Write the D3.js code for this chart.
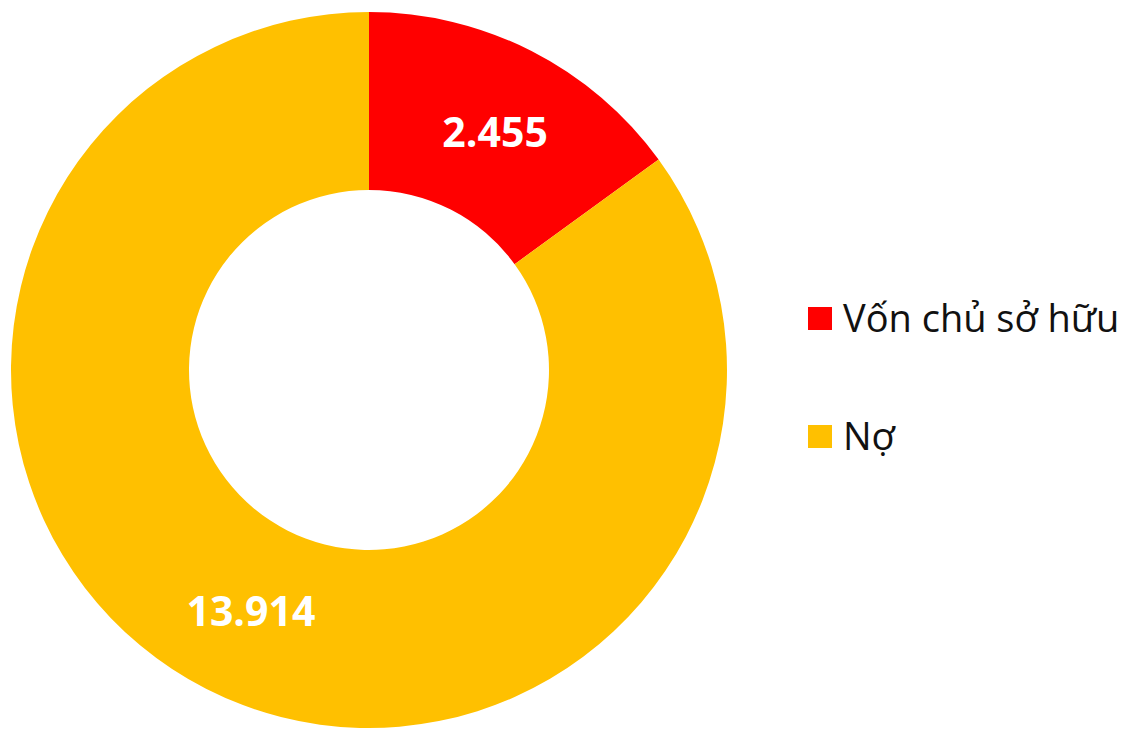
<!DOCTYPE html>
<meta charset="utf-8">
<script src="https://d3js.org/d3.v7.min.js"></script>
<style>
  body { margin: 0; background: #fff; }
  text { font-family: "Open Sans", "Noto Sans", sans-serif; }
</style>
<div id="chart"></div>
<script>
var width = 1121, height = 733;

var categories = ["Vốn chủ sở hữu", "Nợ"];
var values = [2.455, 13.914];
var labels = ["2.455", "13.914"];
var colors = ["#ff0000", "#ffc000"];

var cx = 369, cy = 370, outerR = 358, innerR = 180;

var svg = d3.select("#chart")
  .append("svg")
  .attr("width", width)
  .attr("height", height);

var data = categories.map(function(c, i) {
  return { name: c, value: values[i], label: labels[i], color: colors[i] };
});

var pie = d3.pie().sort(null).value(function(d) { return d.value; });
var arc = d3.arc().innerRadius(innerR).outerRadius(outerR);

var g = svg.append("g").attr("transform", "translate(" + cx + "," + cy + ")");

var slices = g.selectAll(".slice")
  .data(pie(data))
  .enter().append("g")
  .attr("class", "slice");

slices.append("path")
  .attr("d", arc)
  .attr("fill", function(d) { return d.data.color; });

slices.append("text")
  .attr("transform", function(d) {
    var c = arc.centroid(d);
    return "translate(" + (c[0] + 4) + "," + (c[1] + 2) + ")";
  })
  .attr("text-anchor", "middle")
  .attr("dy", "0.36em")
  .attr("fill", "#fff")
  .attr("font-weight", "bold")
  .attr("font-size", 41)
  .text(function(d) { return d.data.label; });

// legend
var legend = svg.append("g").attr("transform", "translate(808,307)");
var item = legend.selectAll(".item")
  .data(data)
  .enter().append("g")
  .attr("class", "item")
  .attr("transform", function(d, i) { return "translate(0," + (i * 118) + ")"; });

item.append("rect")
  .attr("width", 24)
  .attr("height", 23)
  .attr("fill", function(d) { return d.color; });

item.append("text")
  .attr("x", 35)
  .attr("y", 25)
  .attr("font-size", 38)
  .attr("fill", "#111")
  .text(function(d) { return d.name; });
</script>
